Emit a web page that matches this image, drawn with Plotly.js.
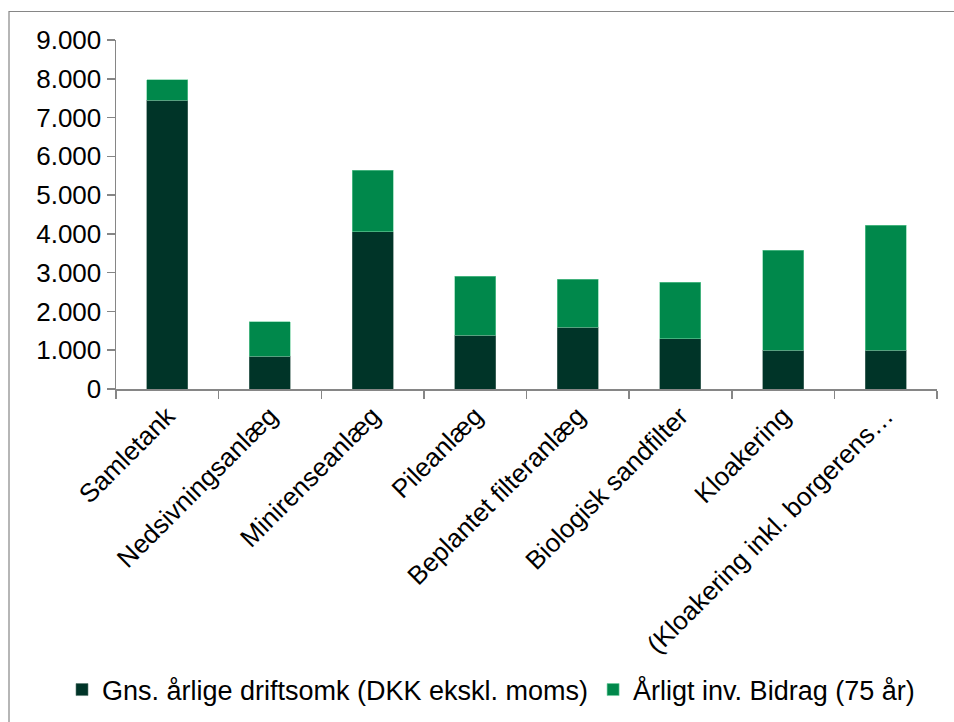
<!DOCTYPE html>
<html>
<head>
<meta charset="utf-8">
<script src="https://cdn.plot.ly/plotly-3.0.1.min.js"></script>
<style>html,body{margin:0;padding:0;background:#fff}#chart{width:954px;height:722px}</style>
</head>
<body>
<div id="chart"></div>
<script>
const categories = ["Samletank","Nedsivningsanlæg","Minirenseanlæg","Pileanlæg","Beplantet filteranlæg","Biologisk sandfilter","Kloakering","(Kloakering inkl. borgerens…"];
const drift = [7440, 850, 4060, 1390, 1590, 1290, 1000, 1000];
const bidrag = [530, 890, 1585, 1520, 1240, 1460, 2580, 3220];
const seriesNames = ["Gns. årlige driftsomk (DKK ekskl. moms)", "Årligt inv. Bidrag (75 år)"];
const yTicks = [0,1000,2000,3000,4000,5000,6000,7000,8000,9000];
const yTickText = ["0","1.000","2.000","3.000","4.000","5.000","6.000","7.000","8.000","9.000"];

const font = "Liberation Sans, Arial, sans-serif";
const data = [
  {type:"bar", x:categories, y:drift, name:seriesNames[0],
   marker:{color:"#003428", line:{color:"#5a7a70", width:0.6}}},
  {type:"bar", x:categories, y:bidrag, name:seriesNames[1],
   marker:{color:"#00884B", line:{color:"#6fcf9f", width:0.6}}}
];
const L=116, R=937, T=40, B=389;
const W=954, H=722;
const pw=R-L, ph=B-T;
const layout = {
  width:W, height:H,
  margin:{l:L, r:W-R, t:T, b:H-B, pad:0, autoexpand:false},
  barmode:"stack", bargap:0.6,
  paper_bgcolor:"#fff", plot_bgcolor:"#fff",
  font:{family:font, size:26, color:"#000"},
  showlegend:true,
  legend:{orientation:"h", x:(62-L)/pw, xanchor:"left", y:(B-690)/ph, yanchor:"middle",
          bgcolor:"rgba(0,0,0,0)", font:{size:27, family:font}, itemwidth:30, tracegroupgap:0, traceorder:"normal"},
  xaxis:{type:"category", automargin:false, showline:true, linecolor:"#868686", linewidth:1.5,
         ticks:"outside", tickson:"boundaries", ticklen:8, tickcolor:"#868686", tickwidth:1.5,
         tickangle:-45, tickfont:{size:26, family:font}, showgrid:false, zeroline:false, fixedrange:true},
  yaxis:{range:[0,9000], automargin:false, tickvals:yTicks, ticktext:yTickText, showline:true, linecolor:"#868686", linewidth:1.5,
         ticks:"outside", ticklen:8, tickcolor:"#868686", tickwidth:1.5, showgrid:false, zeroline:false,
         tickfont:{size:26, family:font}, fixedrange:true},
  shapes:[{type:"rect", xref:"paper", yref:"paper",
           x0:(9-L)/pw, x1:(960-L)/pw, y0:(B-740)/ph, y1:(B-11.5)/ph,
           line:{color:"#868686", width:1.2}, fillcolor:"rgba(0,0,0,0)", layer:"below"}]
};
Plotly.newPlot("chart", data, layout, {displayModeBar:false, staticPlot:true});
</script>
</body>
</html>
